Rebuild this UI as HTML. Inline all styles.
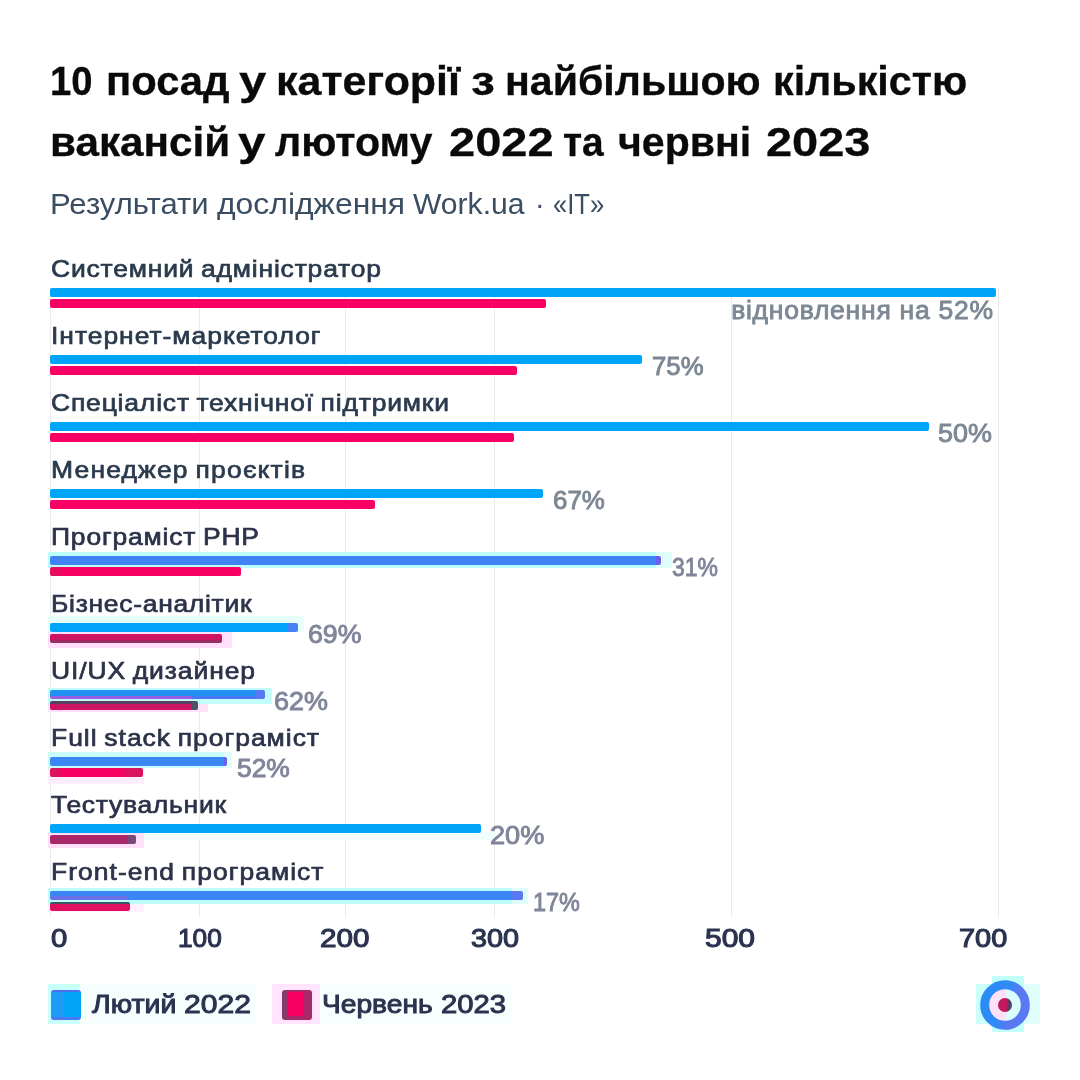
<!DOCTYPE html>
<html lang="uk">
<head>
<meta charset="utf-8">
<title>10 посад у категорії IT — Work.ua</title>
<style>
html,body{margin:0;padding:0;background:#fff}
body{width:1080px;height:1080px;position:relative;overflow:hidden;font-family:"Liberation Sans",sans-serif}
.t{position:absolute;white-space:pre;line-height:1;transform-origin:0 0}
.t.r{transform-origin:100% 0}
.t.c{transform-origin:50% 0}
.g{position:absolute;top:288px;width:1px;height:629px;background:#eaeaee}
.b{position:absolute;height:9px;border-radius:2px}
.sq{position:absolute;width:30px;height:30px;border-radius:3px;top:990px}
.logo{position:absolute;left:980px;top:980px;width:50px;height:50px}
.h{position:absolute}
.wl{position:absolute;left:0;width:1080px;line-height:1;white-space:pre}
.wl span{position:absolute;top:0;transform-origin:0 0}
</style>
</head>
<body>
<div class="g" style="left:50px"></div>
<div class="g" style="left:199px"></div>
<div class="g" style="left:344.5px"></div>
<div class="g" style="left:494px"></div>
<div class="g" style="left:731px"></div>
<div class="g" style="left:998px"></div>
<div class="h" style="left:48px;top:552px;width:608px;height:16px;background:#bdfdfb"></div>
<div class="h" style="left:656px;top:552px;width:16px;height:16px;background:#defdfb"></div>
<div class="h" style="left:48px;top:616px;width:256px;height:16px;background:#e6fffd"></div>
<div class="h" style="left:48px;top:632px;width:184px;height:16px;background:#ffe0f8"></div>
<div class="h" style="left:48px;top:688px;width:224px;height:16px;background:#c2fdfb"></div>
<div class="h" style="left:48px;top:704px;width:160px;height:8px;background:#ffe0f8"></div>
<div class="h" style="left:48px;top:752px;width:176px;height:16px;background:#c8fdfb"></div>
<div class="h" style="left:224px;top:752px;width:8px;height:16px;background:#defdfb"></div>
<div class="h" style="left:48px;top:768px;width:96px;height:16px;background:#ffeefa"></div>
<div class="h" style="left:48px;top:832px;width:448px;height:8px;background:#f0fffd"></div>
<div class="h" style="left:48px;top:833px;width:96px;height:15px;background:#ffe0f8"></div>
<div class="h" style="left:48px;top:888px;width:464px;height:16px;background:#bdfdfb"></div>
<div class="h" style="left:512px;top:888px;width:16px;height:16px;background:#defdfb"></div>
<div class="h" style="left:48px;top:904px;width:96px;height:8px;background:#fff0fb"></div>
<div class="h" style="left:48px;top:984px;width:32px;height:40px;background:#c8fffc"></div>
<div class="h" style="left:80px;top:984px;width:176px;height:40px;background:#f6fffe"></div>
<div class="h" style="left:272px;top:984px;width:48px;height:40px;background:#ffe4fb"></div>
<div class="h" style="left:320px;top:984px;width:192px;height:40px;background:#f8fffe"></div>
<div class="h" style="left:976px;top:984px;width:64px;height:40px;background:#ccfffb"></div>
<div class="h" style="left:992px;top:976px;width:32px;height:56px;background:#c0fffa"></div>
<div class="h" style="left:1024px;top:984px;width:16px;height:40px;background:#e0fffc"></div>
<div class="b" style="left:50px;top:288px;width:945.5px;background:#00a5fa"></div>
<div class="b" style="left:50px;top:299px;width:496px;background:#f80064"></div>
<div class="b" style="left:50px;top:355px;width:592px;background:#00a5fa"></div>
<div class="b" style="left:50px;top:366px;width:467px;background:#f80064"></div>
<div class="b" style="left:50px;top:422px;width:878.5px;background:#00a5fa"></div>
<div class="b" style="left:50px;top:433px;width:464px;background:#f80064"></div>
<div class="b" style="left:50px;top:489px;width:493px;background:#00a5fa"></div>
<div class="b" style="left:50px;top:500px;width:325px;background:#f80064"></div>
<div class="b" style="left:50px;top:556px;width:611px;background:linear-gradient(#6a60f0,#6a60f0) 606px 0px/6px 9px no-repeat,#3f83f5"></div>
<div class="b" style="left:50px;top:567px;width:191px;background:linear-gradient(90deg,#e0105c 0,#f80062 18px)"></div>
<div class="b" style="left:50px;top:623px;width:248px;background:linear-gradient(#4a80f5,#4a80f5) 238px 0px/12px 9px no-repeat,#00a3fa"></div>
<div class="b" style="left:50px;top:634px;width:172px;background:linear-gradient(180deg,#cc1462 0,#cc1462 6px,#9c2c64 6px)"></div>
<div class="b" style="left:50px;top:690px;width:215px;background:linear-gradient(#5a78f2,#5a78f2) 206px 0px/10px 9px no-repeat,linear-gradient(#9a5fe0,#9a5fe0) 0px 6px/142px 3px no-repeat,linear-gradient(#4a78f0,#4a78f0) 142px 6px/74px 3px no-repeat,#2090f5"></div>
<div class="b" style="left:50px;top:701px;width:148px;background:linear-gradient(#4a5468,#4a5468) 142px 0px/7px 9px no-repeat,linear-gradient(#5a4060,#5a4060) 0px 0px/148px 3px no-repeat,#cc1462"></div>
<div class="b" style="left:50px;top:757px;width:176.5px;background:linear-gradient(#6a60f0,#6a60f0) 174px 0px/4px 9px no-repeat,#3a86f5"></div>
<div class="b" style="left:50px;top:768px;width:92.5px;background:linear-gradient(90deg,#d8145c 0,#d8145c 6px,#f80062 14px,#f80062 70px,#d8145c 80px)"></div>
<div class="b" style="left:50px;top:824px;width:431px;background:#00a5fa"></div>
<div class="b" style="left:50px;top:835px;width:86px;background:linear-gradient(#7a4a78,#7a4a78) 78px 0px/9px 9px no-repeat,#a82868"></div>
<div class="b" style="left:50px;top:891px;width:472.5px;background:linear-gradient(#5a78f0,#5a78f0) 462px 0px/11px 9px no-repeat,linear-gradient(#6a70e8,#6a70e8) 0px 5px/78px 4px no-repeat,#3a86f5"></div>
<div class="b" style="left:50px;top:902px;width:80px;background:linear-gradient(#3a5560,#3a5560) 0px 0px/80px 2px no-repeat,#e01060"></div>
<div class="wl title" style="top:60.54px;font-size:40px;font-weight:bold;color:#0a0a0a;-webkit-text-stroke:0.3px #0a0a0a;"><span style="left:49.53px;transform:scaleX(0.9556)">10</span> <span style="left:105.67px;transform:scaleX(1.0434)">посад</span> <span style="left:239.18px;transform:scaleX(1.2275)">у</span> <span style="left:276.41px;transform:scaleX(1.0738)">категорії</span> <span style="left:470.98px;transform:scaleX(1.2022)">з</span> <span style="left:505.40px;transform:scaleX(1.0277)">найбільшою</span> <span style="left:772.89px;transform:scaleX(1.0313)">кількістю</span></div>
<div class="wl title" style="top:122.14px;font-size:40px;font-weight:bold;color:#0a0a0a;-webkit-text-stroke:0.3px #0a0a0a;"><span style="left:50.45px;transform:scaleX(1.0559)">вакансій</span> <span style="left:238.09px;transform:scaleX(1.2361)">у</span> <span style="left:274.95px;transform:scaleX(1.0299)">лютому</span> <span style="left:448.60px;transform:scaleX(1.1753)">2022</span> <span style="left:562.77px;transform:scaleX(0.9740)">та</span> <span style="left:618.43px;transform:scaleX(1.0264)">червні</span> <span style="left:766.40px;transform:scaleX(1.1742)">2023</span></div>
<div class="wl sub" style="top:188.64px;font-size:30.2px;font-weight:normal;color:#3b4d61;"><span style="left:49.84px;transform:scaleX(1.0287)">Результати</span> <span style="left:217.20px;transform:scaleX(1.0563)">дослідження</span> <span style="left:413.30px;transform:scaleX(0.9968)">Work.ua</span> <span style="left:534.95px;transform:scaleX(0.9500)">·</span> <span style="left:553.15px;transform:scaleX(0.8462)">«IT»</span></div>
<div class="wl pct" style="top:353.54px;font-size:25px;font-weight:normal;color:#7d8894;-webkit-text-stroke:0.9px #7d8894;"><span style="left:651.93px;transform:scaleX(1.0300)">75%</span></div>
<div class="wl pct" style="top:420.54px;font-size:25px;font-weight:normal;color:#7d8894;-webkit-text-stroke:0.9px #7d8894;"><span style="left:938.41px;transform:scaleX(1.0763)">50%</span></div>
<div class="wl pct" style="top:487.54px;font-size:25px;font-weight:normal;color:#7d8894;-webkit-text-stroke:0.9px #7d8894;"><span style="left:552.93px;transform:scaleX(1.0361)">67%</span></div>
<div class="wl pct" style="top:554.54px;font-size:25px;font-weight:normal;color:#80859a;-webkit-text-stroke:0.9px #80859a;"><span style="left:671.91px;transform:scaleX(0.9170)">31%</span></div>
<div class="wl pct" style="top:621.54px;font-size:25px;font-weight:normal;color:#80859a;-webkit-text-stroke:0.9px #80859a;"><span style="left:307.91px;transform:scaleX(1.0662)">69%</span></div>
<div class="wl pct" style="top:688.54px;font-size:25px;font-weight:normal;color:#80859a;-webkit-text-stroke:0.9px #80859a;"><span style="left:274.41px;transform:scaleX(1.0763)">62%</span></div>
<div class="wl pct" style="top:755.54px;font-size:25px;font-weight:normal;color:#80859a;-webkit-text-stroke:0.9px #80859a;"><span style="left:236.92px;transform:scaleX(1.0562)">52%</span></div>
<div class="wl pct" style="top:822.54px;font-size:25px;font-weight:normal;color:#80859a;-webkit-text-stroke:0.9px #80859a;"><span style="left:490.40px;transform:scaleX(1.0864)">20%</span></div>
<div class="wl pct" style="top:889.54px;font-size:25px;font-weight:normal;color:#80859a;-webkit-text-stroke:0.9px #80859a;"><span style="left:532.99px;transform:scaleX(0.9355)">17%</span></div>
<div class="wl ax" style="top:926.24px;font-size:25.7px;font-weight:normal;color:#2b3350;-webkit-text-stroke:1.1px #2b3350;"><span style="left:51.49px;transform:scaleX(1.1418)">0</span></div>
<div class="wl ax" style="top:926.24px;font-size:25.7px;font-weight:normal;color:#2b3350;-webkit-text-stroke:1.1px #2b3350;"><span style="left:177.54px;transform:scaleX(1.0194)">100</span></div>
<div class="wl ax" style="top:926.24px;font-size:25.7px;font-weight:normal;color:#2b3350;-webkit-text-stroke:1.1px #2b3350;"><span style="left:319.88px;transform:scaleX(1.1530)">200</span></div>
<div class="wl ax" style="top:926.24px;font-size:25.7px;font-weight:normal;color:#2b3350;-webkit-text-stroke:1.1px #2b3350;"><span style="left:470.62px;transform:scaleX(1.1197)">300</span></div>
<div class="wl ax" style="top:926.24px;font-size:25.7px;font-weight:normal;color:#2b3350;-webkit-text-stroke:1.1px #2b3350;"><span style="left:704.77px;transform:scaleX(1.1670)">500</span></div>
<div class="wl ax" style="top:926.24px;font-size:25.7px;font-weight:normal;color:#2b3350;-webkit-text-stroke:1.1px #2b3350;"><span style="left:958.59px;transform:scaleX(1.1249)">700</span></div>
<div class="wl leg" style="top:991.07px;font-size:26.5px;font-weight:normal;color:#2b3350;-webkit-text-stroke:1.0px #2b3350;"><span style="left:92.44px;transform:scaleX(1.0757)">Лютий</span> <span style="left:183.73px;transform:scaleX(1.1355)">2022</span></div>
<div class="wl leg" style="top:991.07px;font-size:26.5px;font-weight:normal;color:#2b3350;-webkit-text-stroke:1.0px #2b3350;"><span style="left:322.11px;transform:scaleX(1.0626)">Червень</span> <span style="left:441.05px;transform:scaleX(1.1045)">2023</span></div>
<div class="t lab" style="left:51px;top:257.01px;font-size:24.5px;font-weight:normal;color:#2a3a4d;letter-spacing:0.760px;word-spacing:-1.5px;transform:scaleX(1.08);-webkit-text-stroke:0.7px #2a3a4d;">Системний адміністратор</div>
<div class="t lab" style="left:51px;top:323.98px;font-size:24.5px;font-weight:normal;color:#2a3a4d;letter-spacing:0.900px;word-spacing:-1.5px;transform:scaleX(1.08);-webkit-text-stroke:0.7px #2a3a4d;">Інтернет-маркетолог</div>
<div class="t lab" style="left:51px;top:390.95px;font-size:24.5px;font-weight:normal;color:#2a3a4d;letter-spacing:0.767px;word-spacing:-1.5px;transform:scaleX(1.08);-webkit-text-stroke:0.7px #2a3a4d;">Спеціаліст технічної підтримки</div>
<div class="t lab" style="left:51px;top:457.92px;font-size:24.5px;font-weight:normal;color:#2a3a4d;letter-spacing:1.082px;word-spacing:-1.5px;transform:scaleX(1.08);-webkit-text-stroke:0.7px #2a3a4d;">Менеджер проєктів</div>
<div class="t lab" style="left:51px;top:524.89px;font-size:24.5px;font-weight:normal;color:#2b3249;letter-spacing:0.776px;word-spacing:-1.5px;transform:scaleX(1.08);-webkit-text-stroke:0.7px #2b3249;">Програміст PHP</div>
<div class="t lab" style="left:51px;top:591.86px;font-size:24.5px;font-weight:normal;color:#2b3249;letter-spacing:0.656px;word-spacing:-1.5px;transform:scaleX(1.08);-webkit-text-stroke:0.7px #2b3249;">Бізнес-аналітик</div>
<div class="t lab" style="left:51px;top:658.83px;font-size:24.5px;font-weight:normal;color:#2b3249;letter-spacing:0.840px;word-spacing:-1.5px;transform:scaleX(1.08);-webkit-text-stroke:0.7px #2b3249;">UI/UX дизайнер</div>
<div class="t lab" style="left:51px;top:725.80px;font-size:24.5px;font-weight:normal;color:#2b3249;letter-spacing:0.920px;word-spacing:-1.5px;transform:scaleX(1.08);-webkit-text-stroke:0.7px #2b3249;">Full stack програміст</div>
<div class="t lab" style="left:51px;top:792.77px;font-size:24.5px;font-weight:normal;color:#2b3249;letter-spacing:0.678px;word-spacing:-1.5px;transform:scaleX(1.08);-webkit-text-stroke:0.7px #2b3249;">Тестувальник</div>
<div class="t lab" style="left:51px;top:859.74px;font-size:24.5px;font-weight:normal;color:#2b3249;letter-spacing:0.964px;word-spacing:-1.5px;transform:scaleX(1.08);-webkit-text-stroke:0.7px #2b3249;">Front-end програміст</div>
<div class="t r pct" style="right:85.75px;top:297.84px;font-size:25px;font-weight:normal;color:#7d8894;letter-spacing:0.709px;transform:scaleX(1.06);-webkit-text-stroke:0.85px #7d8894;">відновлення на 52%</div>
<div class="sq" style="left:51px;background:linear-gradient(#4a70f0,#4a70f0) 0 0/30px 2px no-repeat,linear-gradient(#4a78f5,#4a78f5) 0 27px/30px 3px no-repeat,linear-gradient(90deg,#1e9af8 0,#1e9af8 13px,#00a5fa 13px)"></div>
<div class="sq" style="left:282px;background:linear-gradient(#f80062,#f80062) 6px 2px/16px 24px no-repeat,linear-gradient(90deg,#8a3a6a 0,#8a3a6a 6px,#a82868 6px)"></div>
<svg class="logo" viewBox="0 0 50 50"><defs><linearGradient id="rg" x1="0" y1="0" x2="1" y2="0.35"><stop offset="0" stop-color="#2a8cf6"/><stop offset="0.55" stop-color="#2f8af5"/><stop offset="0.8" stop-color="#5a78f2"/></linearGradient><linearGradient id="dg" x1="0" y1="0" x2="1" y2="0"><stop offset="0.65" stop-color="#c2185c"/><stop offset="0.7" stop-color="#5e3a62"/></linearGradient><linearGradient id="ig" x1="0" y1="0" x2="1" y2="0"><stop offset="0.5" stop-color="#ffe0f8"/><stop offset="0.55" stop-color="#d8fffb"/></linearGradient></defs><circle cx="25" cy="25" r="20.3" fill="url(#ig)" stroke="url(#rg)" stroke-width="9"/><circle cx="25" cy="25" r="7" fill="url(#dg)"/></svg>
</body>
</html>
